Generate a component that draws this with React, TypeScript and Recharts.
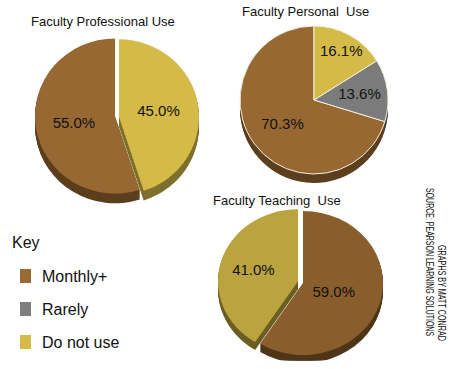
import * as React from "react"
import { PieChart, Pie, Cell } from "recharts"

// legend categories
const keyNames = ["Monthly+", "Rarely", "Do not use"]
const keyColors = ["#9a6a34", "#7e7e7e", "#d4bb4a"]

// Faculty Professional Use (counter-clockwise from 12 o'clock)
const professionalNames = ["Monthly+", "Do not use"]
const professionalValues = [55.0, 45.0]

// Faculty Personal Use
const personalNames = ["Monthly+", "Rarely", "Do not use"]
const personalValues = [70.3, 13.6, 16.1]

// Faculty Teaching Use
const teachingNames = ["Do not use", "Monthly+"]
const teachingValues = [41.0, 59.0]

const RADIAN = Math.PI / 180
const FONT = "'Liberation Sans', Arial, sans-serif"

interface Pie3DProps {
  names: string[]
  values: number[]
  top: string[]
  side: string[]
  cx: number
  cy: number
  r: number
  depth: number
  explode: ([number, number] | null)[]
  labelR: number[]
  stroke?: string
  sy?: number
}

const Pie3D: React.FC<Pie3DProps> = ({ names, values, top, side, cx, cy, r, depth, explode, labelR, stroke, sy = 1 }) => {
  const rows = names.map((name, i) => ({ name, value: values[i] }))
  const groups: { offset: [number, number]; members: number[] }[] = []
  const still = values.map((_, i) => i).filter((i) => !explode[i])
  groups.push({ offset: [0, 0], members: still })
  explode.forEach((e, i) => {
    if (e) groups.push({ offset: e, members: [i] })
  })

  const layers: React.ReactElement[] = []
  for (let d = depth; d >= 1; d--) {
    groups.forEach((g, gi) => {
      layers.push(
        <Pie
          key={`d${d}-${gi}`}
          data={rows}
          dataKey="value"
          cx={cx + g.offset[0]}
          cy={cy + g.offset[1] + d}
          outerRadius={r}
          startAngle={90}
          endAngle={450}
          stroke="none"
          isAnimationActive={false}
        >
          {rows.map((_, i) => (
            <Cell key={i} fill={g.members.includes(i) ? side[i] : "transparent"} />
          ))}
        </Pie>
      )
    })
  }

  groups.forEach((g, gi) => {
    const renderLabel = (p: any) => {
      const i = p.index
      if (!g.members.includes(i)) return null
      const rad = r * labelR[i]
      const x = cx + g.offset[0] + rad * Math.cos(-p.midAngle * RADIAN)
      const y = cy + g.offset[1] + rad * Math.sin(-p.midAngle * RADIAN)
      return (
        <text
          key={`l${i}`}
          x={0}
          y={0}
          transform={`translate(${x},${y}) scale(1,${1 / sy})`}
          fill="#111"
          textAnchor="middle"
          dominantBaseline="central"
          fontSize={15}
          fontFamily={FONT}
        >
          {`${values[i].toFixed(1)}%`}
        </text>
      )
    }
    layers.push(
      <Pie
        key={`top-${gi}`}
        data={rows}
        dataKey="value"
        cx={cx + g.offset[0]}
        cy={cy + g.offset[1]}
        outerRadius={r}
        startAngle={90}
        endAngle={450}
        stroke="none"
        labelLine={false}
        label={renderLabel}
        isAnimationActive={false}
      >
        {rows.map((_, i) => (
          <Cell
            key={i}
            fill={g.members.includes(i) ? top[i] : "transparent"}
            stroke={g.members.includes(i) && stroke ? stroke : "none"}
            strokeWidth={1}
          />
        ))}
      </Pie>
    )
  })

  return (
    <div style={{ position: "absolute", left: 0, top: 0, transform: `scaleY(${sy})`, transformOrigin: `0px ${cy}px` }}>
      <PieChart width={470} height={369} margin={{ top: 0, right: 0, bottom: 0, left: 0 }}>
        {layers}
      </PieChart>
    </div>
  )
}

export default function App() {
  return (
    <div style={{ position: "absolute", left: 0, top: 0, width: 470, height: 369, background: "#fff", overflow: "hidden" }}>
      <Pie3D
        names={professionalNames}
        values={professionalValues}
        top={["#986833", "#d3ba49"]}
        side={["#5c3f1e", "#7f702e"]}
        cx={115}
        cy={116}
        r={80}
        depth={10}
        explode={[null, [4, 1]]}
        labelR={[0.52, 0.5]}
        sy={0.97}
      />
      <Pie3D
        names={personalNames}
        values={personalValues}
        top={["#976832", "#7b7b7b", "#d4bb48"]}
        side={["#5c3f1e", "#464646", "#7f702e"]}
        cx={314}
        cy={100}
        r={74}
        depth={9}
        explode={[null, null, null]}
        labelR={[0.53, 0.62, 0.76]}
        stroke="#f4f0e0"
      />
      <Pie3D
        names={teachingNames}
        values={teachingValues}
        top={["#bba440", "#8a5d2c"]}
        side={["#6c5f24", "#4f3619"]}
        cx={303}
        cy={283}
        r={80}
        depth={9}
        explode={[[-5, -2], null]}
        labelR={[0.58, 0.4]}
        sy={0.9}
      />
      <svg width={470} height={369} style={{ position: "absolute", left: 0, top: 0 }}>
        <g fontFamily={FONT} fill="#111">
          <text x={31} y={26} fontSize={13}>Faculty Professional Use</text>
          <text x={242} y={16} fontSize={13} style={{ whiteSpace: "pre" }}>Faculty Personal  Use</text>
          <text x={213} y={205} fontSize={13} style={{ whiteSpace: "pre" }}>Faculty Teaching  Use</text>
          <text x={12} y={248} fontSize={16}>Key</text>
          {keyNames.map((name, i) => (
            <g key={name}>
              <rect x={20} y={269 + i * 33} width={11} height={14} fill={keyColors[i]} />
              <text x={42} y={282 + i * 33} fontSize={16}>{name}</text>
            </g>
          ))}
          <text transform="translate(438, 245) rotate(90) scale(0.72, 1)" fontSize={10}>GRAPHS BY MATT CONRAD</text>
          <text transform="translate(426, 188) rotate(90) scale(0.7, 1)" fontSize={10}>SOURCE: PEARSON LEARNING SOLUTIONS</text>
        </g>
      </svg>
    </div>
  )
}
